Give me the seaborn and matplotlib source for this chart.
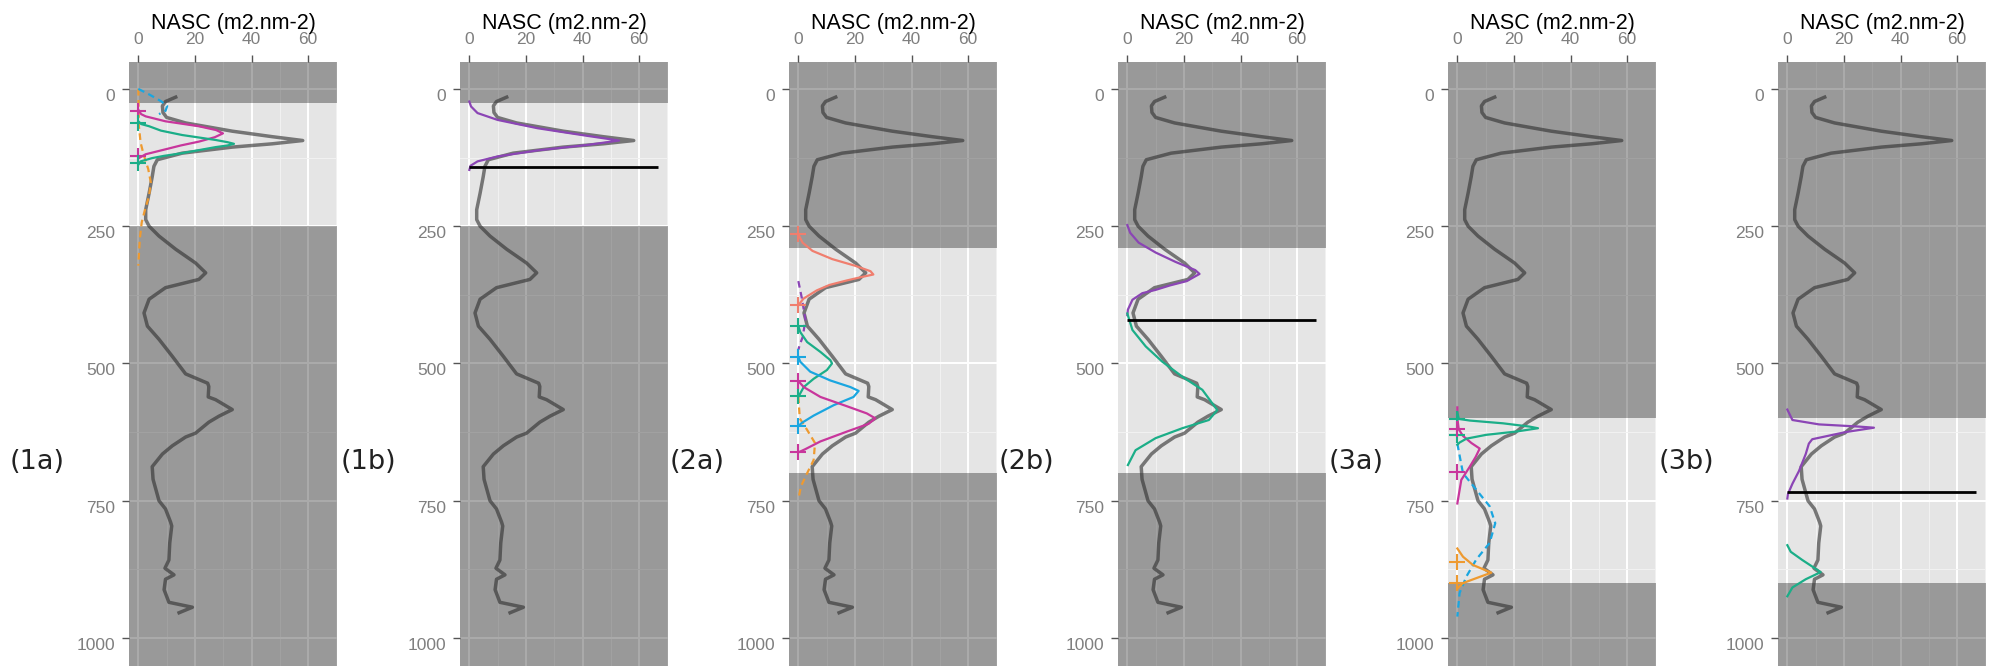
import matplotlib
matplotlib.use("Agg")
import matplotlib.pyplot as plt
import matplotlib.transforms as mtransforms
from matplotlib.ticker import MultipleLocator
import seaborn as sns

# ---------------------------------------------------------
# data
# ---------------------------------------------------------
# grey NASC profile, identical in every panel
profile_depth = [15, 23, 31, 43, 52, 62, 77, 87, 94, 100, 106, 117, 129, 141, 160, 190,
                 220, 238, 250, 268, 292, 317, 335, 347, 362, 383, 408, 432, 456, 487,
                 519, 536, 542, 561, 566, 584, 596, 607, 627, 634, 650, 665, 688, 711,
                 750, 765, 789, 796, 827, 858, 873, 885, 893, 912, 935, 944, 954]
profile_nasc = [13.2, 9.6, 8.5, 8.7, 10.0, 16.7, 33.2, 47.3, 58.1, 47.3, 33.2, 15.5, 6.7,
                5.5, 4.9, 3.8, 2.6, 2.6, 3.8, 7.3, 13.2, 20.2, 23.8, 21.4, 9.6, 3.8, 2.0,
                3.2, 7.3, 12.0, 16.7, 24.5, 24.9, 24.7, 27.3, 33.2, 28.5, 24.9, 20.2, 16.7,
                12.0, 8.5, 4.9, 5.2, 7.3, 9.6, 11.4, 11.8, 11.1, 10.8, 9.4, 12.6, 9.6, 9.1,
                10.8, 19.1, 14.4]

panel_names = ["(1a)", "(1b)", "(2a)", "(2b)", "(3a)", "(3b)"]
band_top = [25, 25, 290, 290, 600, 600]
band_bottom = [250, 250, 700, 700, 900, 900]
cut_depth = [None, 143, None, 420, None, 735]
cut_xmax = 66.5

# panel 1a components
c1a_mag_d = [38, 46, 50, 59, 68, 75, 81, 88, 96, 103, 110, 119, 126]
c1a_mag_x = [0, 1.0, 2.6, 9.6, 21.4, 27.5, 29.9, 27.0, 21.4, 15.0, 9.6, 2.6, 0.2]
c1a_grn_d = [59, 64, 68, 76, 84, 93, 97, 100, 103, 106, 117, 122, 126, 132, 138]
c1a_grn_x = [0, 1.0, 3.8, 8.0, 15.5, 27.3, 31.5, 33.8, 31.5, 27.3, 15.5, 9.0, 4.9, 0.8, 0]
c1a_blu_d = [0, 10, 22, 31, 40, 46]
c1a_blu_x = [0, 3.8, 7.9, 10.2, 9.6, 7.3]
c1a_org_d = [0, 38, 68, 98, 122, 146, 170, 195, 219, 243, 274, 322]
c1a_org_x = [0, 0.1, 0.2, 0.8, 2.0, 3.5, 4.4, 3.8, 2.4, 1.2, 0.5, 0]

# panel 1b fit
c1b_pur_d = [23, 32, 44, 56.5, 71.6, 85.6, 94, 102, 112, 123, 132, 140, 147.5]
c1b_pur_x = [0, 0.6, 2.9, 10.0, 24.1, 41.8, 52.9, 41.8, 24.1, 10.0, 2.9, 0.4, 0]

# panel 2a components
c2a_sal_d = [265, 280, 295, 310, 322, 332, 338, 343, 349, 357, 367, 382, 394]
c2a_sal_x = [0, 1.5, 5.0, 12.0, 20.0, 25.5, 26.5, 22.0, 17.0, 11.0, 6.5, 1.8, 0]
c2a_pur_d = [350, 380, 420, 451, 466, 475]
c2a_pur_x = [0, 1.2, 2.5, 1.6, 0.5, 0]
c2a_grn_d = [432, 443, 461, 479, 494, 500, 512, 528, 543, 559]
c2a_grn_x = [0, 0.7, 3.1, 7.8, 11.3, 11.9, 10.1, 5.4, 1.9, 0.2]
c2a_blu_d = [488, 497, 515, 531, 543, 550, 561, 576, 595, 608, 614]
c2a_blu_x = [0, 0.7, 4.2, 11.3, 18.4, 21.3, 19.5, 12.5, 5.4, 1.3, 0]
c2a_mag_d = [532, 543, 561, 578, 591, 600, 610, 624, 642, 656, 662]
c2a_mag_x = [0, 1.9, 7.8, 17.2, 24.2, 27.2, 24.8, 17.2, 7.8, 2.5, 0]
c2a_org_d = [560, 600, 621, 645, 676, 700, 724, 748]
c2a_org_x = [0, 0.5, 3.1, 5.9, 5.4, 3.1, 0.9, 0]

# panel 2b fit
c2b_pur_d = [248, 262, 280, 298, 315, 330, 337, 350, 358, 366, 372, 384, 402, 412]
c2b_pur_x = [0, 1.0, 4.0, 10.0, 17.0, 24.0, 25.5, 21.0, 15.0, 10.0, 5.3, 1.8, 0.2, 0]
c2b_grn_d = [409, 439, 469, 497, 524, 548, 585, 603, 618, 636, 658, 685]
c2b_grn_x = [0, 1.8, 6.5, 12.4, 19.4, 26.5, 31.8, 28.8, 19.4, 10.0, 2.9, 0.2]

# panel 3a components
c3a_grn_d = [589, 601, 604, 609, 615, 618, 624, 630, 637, 644, 648]
c3a_grn_x = [0, 0.5, 4.4, 16.1, 25.5, 28.5, 20.8, 10.2, 3.2, 0.8, 0]
c3a_mag_d = [580, 600, 620, 632, 645, 655, 670, 688, 712, 755]
c3a_mag_x = [0, 0, 0.5, 2.0, 5.0, 7.9, 6.5, 4.4, 1.4, 0]
c3a_blu_d = [646, 700, 730, 760, 791, 827, 857, 888, 918, 961]
c3a_blu_x = [0, 2.0, 6.7, 11.4, 13.4, 11.4, 6.7, 3.2, 0.8, 0]
c3a_org_d = [837, 852, 867, 881, 891, 900, 909]
c3a_org_x = [0, 2.0, 5.5, 12.0, 6.7, 2.0, 0.2]

# panel 3b fit
c3b_pur_d = [584, 603, 611, 615, 617, 625, 638, 646, 665, 696, 719, 738, 746]
c3b_pur_x = [0, 1.8, 11.2, 25.3, 30.6, 20.6, 8.8, 7.6, 6.5, 4.1, 1.8, 0.2, 0]
c3b_grn_d = [831, 843, 858, 880, 893, 908, 924]
c3b_grn_x = [0, 1.2, 5.3, 11.8, 6.5, 1.8, 0]

# "+" markers on the depth axis
p1a_mag = [40.6, 122.6]
p1a_grn = [62, 135]
p2a_sal = [265, 394]
p2a_grn = [432, 559]
p2a_blu = [488, 614]
p2a_mag = [532, 662]
p3a_grn = [601, 630]
p3a_mag = [619, 697]
p3a_org = [861, 899]

colours = {
    "magenta": "#C8369C",
    "green": "#1BAE88",
    "blue": "#1AA6E0",
    "orange": "#EE9A30",
    "salmon": "#F07E6E",
    "purple": "#8B45B5",
}

solid, dashed = "-", (0, (3, 2))
curves = [
    (0, "orange", dashed, c1a_org_d, c1a_org_x),
    (0, "blue", dashed, c1a_blu_d, c1a_blu_x),
    (0, "magenta", solid, c1a_mag_d, c1a_mag_x),
    (0, "green", solid, c1a_grn_d, c1a_grn_x),
    (1, "purple", solid, c1b_pur_d, c1b_pur_x),
    (2, "salmon", solid, c2a_sal_d, c2a_sal_x),
    (2, "purple", dashed, c2a_pur_d, c2a_pur_x),
    (2, "orange", dashed, c2a_org_d, c2a_org_x),
    (2, "green", solid, c2a_grn_d, c2a_grn_x),
    (2, "blue", solid, c2a_blu_d, c2a_blu_x),
    (2, "magenta", solid, c2a_mag_d, c2a_mag_x),
    (3, "purple", solid, c2b_pur_d, c2b_pur_x),
    (3, "green", solid, c2b_grn_d, c2b_grn_x),
    (4, "blue", dashed, c3a_blu_d, c3a_blu_x),
    (4, "magenta", solid, c3a_mag_d, c3a_mag_x),
    (4, "green", solid, c3a_grn_d, c3a_grn_x),
    (4, "orange", solid, c3a_org_d, c3a_org_x),
    (5, "purple", solid, c3b_pur_d, c3b_pur_x),
    (5, "green", solid, c3b_grn_d, c3b_grn_x),
]
plus_marks = [
    (0, "magenta", p1a_mag), (0, "green", p1a_grn),
    (2, "salmon", p2a_sal), (2, "green", p2a_grn),
    (2, "blue", p2a_blu), (2, "magenta", p2a_mag),
    (4, "green", p3a_grn), (4, "magenta", p3a_mag), (4, "orange", p3a_org),
]

# ---------------------------------------------------------
# figure
# ---------------------------------------------------------
W, H = 1995, 666
fig = plt.figure(figsize=(W / 100, H / 100), dpi=100)
plt.rcParams["font.family"] = ["Liberation Sans", "DejaVu Sans"]

panel_left = [129, 460, 789, 1118, 1448, 1778]
panel_w, panel_top = 208, 62
ytop, ybot = -49, 1051
xlo, xhi = -3.3, 70.2

for i, name in enumerate(panel_names):
    L = panel_left[i]
    ax = fig.add_axes([L / W, 0, panel_w / W, (H - panel_top) / H])
    ax.set_facecolor("#E5E5E5")
    for s in ax.spines.values():
        s.set_visible(False)

    ax.xaxis.set_major_locator(MultipleLocator(20))
    ax.xaxis.set_minor_locator(MultipleLocator(10))
    ax.yaxis.set_major_locator(MultipleLocator(250))
    ax.yaxis.set_minor_locator(MultipleLocator(125))
    ax.set_axisbelow(True)
    ax.grid(which="major", color="white", lw=1.4)
    ax.grid(which="minor", color="#F2F2F2", lw=0.7)

    # darken everything outside the selected depth layer
    ax.axhspan(ytop, band_top[i], color="black", alpha=0.33, lw=0, zorder=1)
    ax.axhspan(band_bottom[i], ybot, color="black", alpha=0.33, lw=0, zorder=1)

    sns.lineplot(x=profile_nasc, y=profile_depth, orient="y", estimator=None,
                 color="#303030", alpha=0.62, lw=2.5, ax=ax, zorder=3)

    for p, col, ls, d, x in curves:
        if p != i:
            continue
        sns.lineplot(x=x, y=d, orient="y", estimator=None, color=colours[col],
                     linestyle=ls, lw=1.6, ax=ax, zorder=4)
    for p, col, d in plus_marks:
        if p != i:
            continue
        sns.scatterplot(x=[0] * len(d), y=d, marker="+", s=120, linewidth=1.5,
                        color=colours[col], ax=ax, zorder=5)

    if cut_depth[i] is not None:
        ax.hlines(cut_depth[i], 0, cut_xmax, color="black", lw=2, zorder=6)

    ax.set_xlim(xlo, xhi)
    ax.set_ylim(ybot, ytop)
    ax.xaxis.tick_top()
    ax.xaxis.set_label_position("top")
    ax.set_xlabel("NASC (m2.nm-2)", fontsize=15.5, labelpad=2, color="black")
    ax.set_ylabel("")
    ax.set_xticks([0, 20, 40, 60])
    ax.set_yticks([0, 250, 500, 750, 1000])
    ax.tick_params(which="major", length=5, width=1, color="#555555",
                   labelcolor="#7F7F7F", labelsize=12.5, pad=5)
    ax.tick_params(which="minor", length=0)
    ax.tick_params(axis="x", pad=6)
    shift = mtransforms.ScaledTranslation(0, -0.06, fig.dpi_scale_trans)
    for lab in ax.get_yticklabels():
        lab.set_transform(lab.get_transform() + shift)

    fig.text((L - 92) / W, 1 - 462 / H, name, ha="center", va="center",
             fontsize=19.5, color="#222222", family="DejaVu Sans")

fig.savefig("out.png", dpi=100)
